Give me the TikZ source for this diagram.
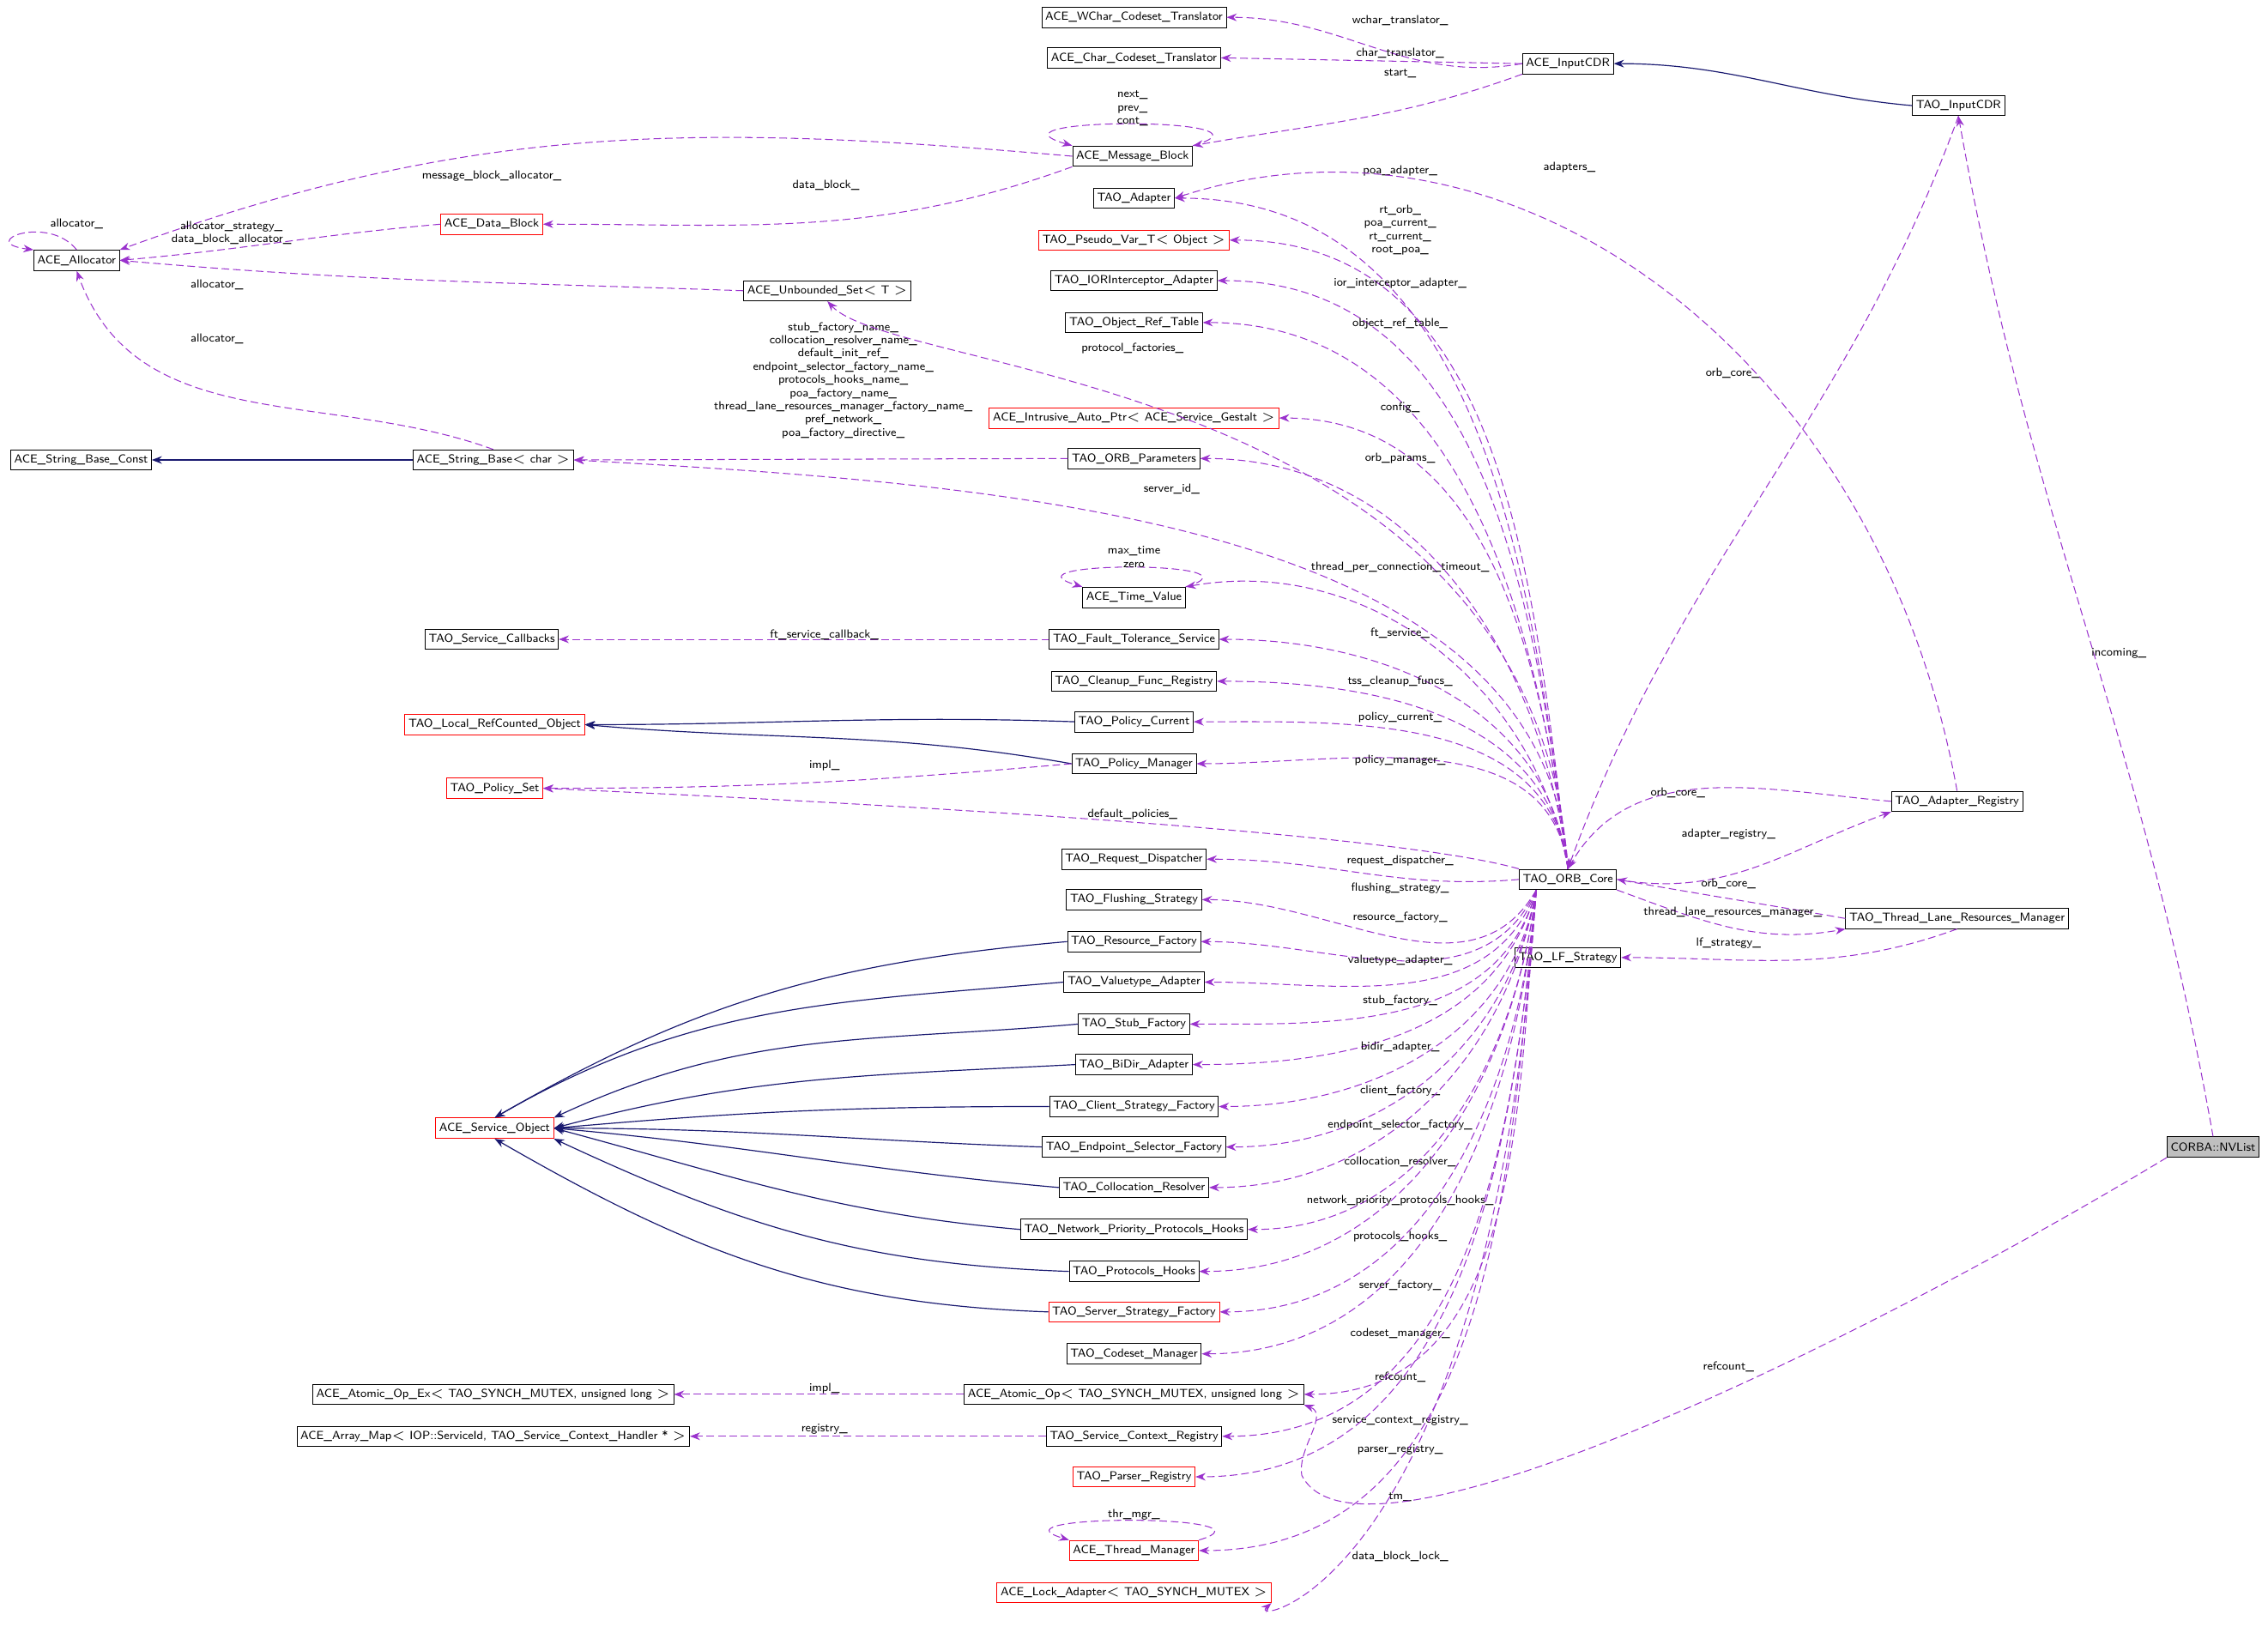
\documentclass[tikz,border=0pt]{standalone}
\usetikzlibrary{arrows.meta,calc}
\definecolor{usecol}{HTML}{9A32CD}
\definecolor{inhcol}{HTML}{191970}
\tikzset{
  cls/.style={draw=black,fill=white,inner sep=1.4pt,minimum height=8pt,line width=0.3pt,font=\fontsize{4.6}{5.2}\selectfont\sffamily},
  redcls/.style={cls,draw=red},
  lbl/.style={inner sep=0pt,align=center,font=\fontsize{4.6}{5.2}\selectfont\sffamily},
  dep/.style={draw=usecol,dashed,dash pattern=on 3pt off 1.5pt,line width=0.35pt,-{Stealth[length=4pt,width=3pt,fill=usecol]}},
  inh/.style={draw=inhcol,line width=0.4pt,-{Stealth[length=4pt,width=3pt,fill=inhcol]}}
}
\def\drawuse{\draw[dep]}
\def\drawinh{\draw[inh]}
\def\cnode{\node[cls]}
\def\rnode{\node[redcls]}
\begin{document}
\begin{tikzpicture}[x=0.02cm,y=-0.02cm]
\useasboundingbox (0,0) rectangle (1568,1141);
% ---------- classes, top right
\cnode (wchar) at (784,12) {ACE\_WChar\_Codeset\_Translator};
\cnode (char) at (784,40) {ACE\_Char\_Codeset\_Translator};
\cnode (acecdr) at (1084,44) {ACE\_InputCDR};
\cnode (taocdr) at (1354,73) {TAO\_InputCDR};
\cnode (mblock) at (783,108) {ACE\_Message\_Block};
\cnode (adapter) at (784,137) {TAO\_Adapter};
\rnode (dblock) at (340,155) {ACE\_Data\_Block};
\cnode (alloc) at (53,180) {ACE\_Allocator};
\rnode (pseudo) at (784,166) {TAO\_Pseudo\_Var\_T$<$ Object $>$};
\cnode (ior) at (784,194) {TAO\_IORInterceptor\_Adapter};
\cnode (objref) at (784,223) {TAO\_Object\_Ref\_Table};
\cnode (uset) at (572,201) {ACE\_Unbounded\_Set$<$ T $>$};
\rnode (autoptr) at (784,289) {ACE\_Intrusive\_Auto\_Ptr$<$ ACE\_Service\_Gestalt $>$};
\cnode (sbconst) at (56,318) {ACE\_String\_Base\_Const};
\cnode (sbase) at (341,318) {ACE\_String\_Base$<$ char $>$};
\cnode (params) at (784,317) {TAO\_ORB\_Parameters};
\cnode (tval) at (784,413) {ACE\_Time\_Value};
\cnode (svccb) at (340,442) {TAO\_Service\_Callbacks};
\cnode (ftsvc) at (784,442) {TAO\_Fault\_Tolerance\_Service};
\cnode (cleanup) at (784,471) {TAO\_Cleanup\_Func\_Registry};
\rnode (refcnt) at (342,501) {TAO\_Local\_RefCounted\_Object};
\cnode (polcur) at (784,499) {TAO\_Policy\_Current};
\cnode (polman) at (784,528) {TAO\_Policy\_Manager};
\rnode (polset) at (342,545) {TAO\_Policy\_Set};
% ---------- classes, lower middle column
\cnode (reqdisp) at (784,594) {TAO\_Request\_Dispatcher};
\cnode (flush) at (784,622) {TAO\_Flushing\_Strategy};
\cnode (resfac) at (784,651) {TAO\_Resource\_Factory};
\cnode (valad) at (784,679) {TAO\_Valuetype\_Adapter};
\cnode (stubfac) at (784,708) {TAO\_Stub\_Factory};
\cnode (bidir) at (784,736) {TAO\_BiDir\_Adapter};
\cnode (clifac) at (784,765) {TAO\_Client\_Strategy\_Factory};
\cnode (endsel) at (784,793) {TAO\_Endpoint\_Selector\_Factory};
\cnode (colloc) at (784,821) {TAO\_Collocation\_Resolver};
\cnode (netprio) at (784,850) {TAO\_Network\_Priority\_Protocols\_Hooks};
\cnode (prothk) at (784,879) {TAO\_Protocols\_Hooks};
\rnode (srvfac) at (784,907) {TAO\_Server\_Strategy\_Factory};
\cnode (codeset) at (784,936) {TAO\_Codeset\_Manager};
\rnode (svcobj) at (342,780) {ACE\_Service\_Object};
\cnode (atomex) at (341,964) {ACE\_Atomic\_Op\_Ex$<$ TAO\_SYNCH\_MUTEX, unsigned long $>$};
\cnode (atom) at (784,964) {ACE\_Atomic\_Op$<$ TAO\_SYNCH\_MUTEX, unsigned long $>$};
\cnode (amap) at (341,993) {ACE\_Array\_Map$<$ IOP::ServiceId, TAO\_Service\_Context\_Handler * $>$};
\cnode (scr) at (784,993) {TAO\_Service\_Context\_Registry};
\rnode (parser) at (784,1021) {TAO\_Parser\_Registry};
\rnode (thrmgr) at (784,1072) {ACE\_Thread\_Manager};
\rnode (lockad) at (784,1101) {ACE\_Lock\_Adapter$<$ TAO\_SYNCH\_MUTEX $>$};
% ---------- classes, right
\cnode (core) at (1084,608) {TAO\_ORB\_Core};
\cnode (lfstr) at (1084,662) {TAO\_LF\_Strategy};
\cnode (adreg) at (1353,554) {TAO\_Adapter\_Registry};
\cnode (tlrm) at (1353,635) {TAO\_Thread\_Lane\_Resources\_Manager};
\node[cls,fill=black!25] (nvlist) at (1530,793) {CORBA::NVList};
\coordinate (corelow) at ($(core.south west)+(12,0)$);

% ---------- CDR and message blocks
\drawuse (acecdr.west) to[out=190,in=0] (wchar.east);
\node[lbl] at (968,14) {wchar\_translator\_};
\drawuse (acecdr.west) -- (char.east);
\node[lbl] at (968,37) {char\_translator\_};
\drawuse (acecdr.south west) to[out=200,in=10] (mblock.north east);
\node[lbl] at (968,51) {start\_};
\drawinh (taocdr.west) to[out=175,in=0] (acecdr.east);
\drawuse (mblock.north east) .. controls +(70,-20) and +(-70,-20) .. (mblock.north west);
\node[lbl] at (783,75) {next\_\\prev\_\\cont\_};
\drawuse (mblock.west) to[out=175,in=20] (alloc.north east);
\node[lbl] at (340,122) {message\_block\_allocator\_};
\drawuse (mblock.south west) to[out=200,in=0] (dblock.east);
\node[lbl] at (571,128) {data\_block\_};
\drawuse (dblock.west) to[out=185,in=5] (alloc.east);
\node[lbl] at (160,161) {allocator\_strategy\_\\data\_block\_allocator\_};
\drawuse (alloc.north) .. controls +(-20,-25) and +(-40,-5) .. (alloc.north west);
\node[lbl] at (53,155) {allocator\_};
\drawuse (uset.west) to[out=178,in=-5] (alloc.east);
\node[lbl] at (150,197) {allocator\_};
\drawuse (sbase.north) to[out=160,in=-70] (alloc.south);
\node[lbl] at (150,234) {allocator\_};
\drawinh (sbase.west) -- (sbconst.east);
\drawuse (params.west) -- (sbase.east);
\node[lbl] at (583,263) {stub\_factory\_name\_\\collocation\_resolver\_name\_\\default\_init\_ref\_\\endpoint\_selector\_factory\_name\_\\protocols\_hooks\_name\_\\poa\_factory\_name\_\\thread\_lane\_resources\_manager\_factory\_name\_\\pref\_network\_\\poa\_factory\_directive\_};

% ---------- ORB core, upper members
\drawuse (core.north) to[out=97,in=0] (adapter.east);
\node[lbl] at (968,118) {poa\_adapter\_};
\drawuse (core.north) to[out=97,in=0] (pseudo.east);
\node[lbl] at (968,159) {rt\_orb\_\\poa\_current\_\\rt\_current\_\\root\_poa\_};
\drawuse (core.north) to[out=97,in=0] (ior.east);
\node[lbl] at (968,196) {ior\_interceptor\_adapter\_};
\drawuse (core.north) to[out=97,in=0] (objref.east);
\node[lbl] at (968,224) {object\_ref\_table\_};
\drawuse (core.north) .. controls (1060,260) and (620,260) .. (uset.south);
\node[lbl] at (783,241) {protocol\_factories\_};
\drawuse (core.north) to[out=97,in=0] (autoptr.east);
\node[lbl] at (968,282) {config\_};
\drawuse (core.north) to[out=97,in=0] (params.east);
\node[lbl] at (968,317) {orb\_params\_};
\drawuse (core.north) .. controls (1070,360) and (700,335) .. (sbase.east);
\node[lbl] at (810,338) {server\_id\_};
\drawuse (core.north) to[out=100,in=10] (tval.north east);
\node[lbl] at (968,392) {thread\_per\_connection\_timeout\_};
\drawuse (tval.north east) .. controls +(60,-18) and +(-60,-18) .. (tval.north west);
\node[lbl] at (784,385) {max\_time\\zero};
\drawuse (core.north) to[out=97,in=0] (ftsvc.east);
\node[lbl] at (968,438) {ft\_service\_};
\drawuse (ftsvc.west) -- (svccb.east);
\node[lbl] at (570,439) {ft\_service\_callback\_};
\drawuse (core.north) to[out=97,in=0] (cleanup.east);
\node[lbl] at (968,471) {tss\_cleanup\_funcs\_};
\drawuse (core.north) to[out=97,in=0] (polcur.east);
\node[lbl] at (968,496) {policy\_current\_};
\drawuse (core.north) to[out=97,in=0] (polman.east);
\node[lbl] at (968,526) {policy\_manager\_};
\drawinh (polcur.west) to[out=178,in=0] (refcnt.east);
\drawinh (polman.west) to[out=170,in=-5] (refcnt.east);
\drawuse (polman.west) to[out=185,in=0] (polset.east);
\node[lbl] at (570,529) {impl\_};
\drawuse (core.north west) .. controls (960,575) and (600,555) .. (polset.east);
\node[lbl] at (783,563) {default\_policies\_};

% ---------- ORB core, lower members
\drawuse (core.west) to[out=185,in=0] (reqdisp.east);
\node[lbl] at (968,595) {request\_dispatcher\_};
\drawuse (corelow) to[out=-120,in=0] (flush.east);
\node[lbl] at (968,614) {flushing\_strategy\_};
\drawuse (corelow) to[out=-115,in=0] (resfac.east);
\node[lbl] at (968,634) {resource\_factory\_};
\drawuse (corelow) to[out=-110,in=0] (valad.east);
\node[lbl] at (968,664) {valuetype\_adapter\_};
\drawuse (corelow) to[out=-105,in=0] (stubfac.east);
\node[lbl] at (968,692) {stub\_factory\_};
\drawuse (corelow) to[out=-105,in=0] (bidir.east);
\node[lbl] at (968,724) {bidir\_adapter\_};
\drawuse (corelow) to[out=-100,in=0] (clifac.east);
\node[lbl] at (968,754) {client\_factory\_};
\drawuse (corelow) to[out=-100,in=0] (endsel.east);
\node[lbl] at (968,778) {endpoint\_selector\_factory\_};
\drawuse (corelow) to[out=-100,in=0] (colloc.east);
\node[lbl] at (968,803) {collocation\_resolver\_};
\drawuse (corelow) to[out=-97,in=0] (netprio.east);
\node[lbl] at (968,830) {network\_priority\_protocols\_hooks\_};
\drawuse (corelow) to[out=-97,in=0] (prothk.east);
\node[lbl] at (968,855) {protocols\_hooks\_};
\drawuse (corelow) to[out=-95,in=0] (srvfac.east);
\node[lbl] at (968,889) {server\_factory\_};
\drawuse (corelow) to[out=-95,in=0] (codeset.east);
\node[lbl] at (968,922) {codeset\_manager\_};
\drawuse (corelow) to[out=-95,in=0] (atom.east);
\node[lbl] at (968,952) {refcount\_};
\drawuse (corelow) to[out=-95,in=0] (scr.east);
\node[lbl] at (968,982) {service\_context\_registry\_};
\drawuse (corelow) to[out=-95,in=0] (parser.east);
\node[lbl] at (968,1002) {parser\_registry\_};
\drawuse (corelow) to[out=-95,in=0] (thrmgr.east);
\node[lbl] at (968,1035) {tm\_};
\drawuse (thrmgr.north east) .. controls +(60,-18) and +(-60,-18) .. (thrmgr.north west);
\node[lbl] at (784,1047) {thr\_mgr\_};
\drawuse (corelow) .. controls (1030,1100) and (860,1125) .. (lockad.south east);
\node[lbl] at (968,1076) {data\_block\_lock\_};
\drawuse (atom.west) -- (atomex.east);
\node[lbl] at (570,960) {impl\_};
\drawuse (scr.west) -- (amap.east);
\node[lbl] at (570,988) {registry\_};

% ---------- service objects
\drawinh (resfac.west) to[out=185,in=30] (svcobj.north);
\drawinh (valad.west) to[out=185,in=30] (svcobj.north);
\drawinh (stubfac.west) to[out=185,in=25] (svcobj.north east);
\drawinh (bidir.west) to[out=183,in=15] (svcobj.east);
\drawinh (clifac.west) to[out=180,in=5] (svcobj.east);
\drawinh (endsel.west) to[out=178,in=0] (svcobj.east);
\drawinh (colloc.west) to[out=175,in=-5] (svcobj.east);
\drawinh (netprio.west) to[out=175,in=-15] (svcobj.east);
\drawinh (prothk.west) to[out=178,in=-25] (svcobj.south east);
\drawinh (srvfac.west) to[out=178,in=-30] (svcobj.south);

% ---------- right side
\drawuse (taocdr.south) to[out=-110,in=70] (core.north);
\node[lbl] at (1198,258) {orb\_core\_};
\drawuse (adreg.north) .. controls (1300,250) and (1050,60) .. (adapter.east);
\node[lbl] at (1085,116) {adapters\_};
\drawuse (adreg.west) to[out=175,in=60] (core.north);
\node[lbl] at (1160,548) {orb\_core\_};
\drawuse (core.east) to[out=-10,in=200] (adreg.south west);
\node[lbl] at (1195,577) {adapter\_registry\_};
\drawuse (tlrm.west) to[out=170,in=-10] (core.east);
\node[lbl] at (1195,611) {orb\_core\_};
\drawuse (core.south east) to[out=-20,in=190] (tlrm.south west);
\node[lbl] at (1198,631) {thread\_lane\_resources\_manager\_};
\drawuse (tlrm.south) to[out=-160,in=0] (lfstr.east);
\node[lbl] at (1195,652) {lf\_strategy\_};
\drawuse (nvlist.north) to[out=100,in=-80] (taocdr.south);
\node[lbl] at (1465,452) {incoming\_};
\drawuse (nvlist.south west) .. controls (1300,920) and (940,1100) .. (900,1020) to[out=100,in=-20] (atom.south east);
\node[lbl] at (1195,945) {refcount\_};
\end{tikzpicture}
\end{document}
